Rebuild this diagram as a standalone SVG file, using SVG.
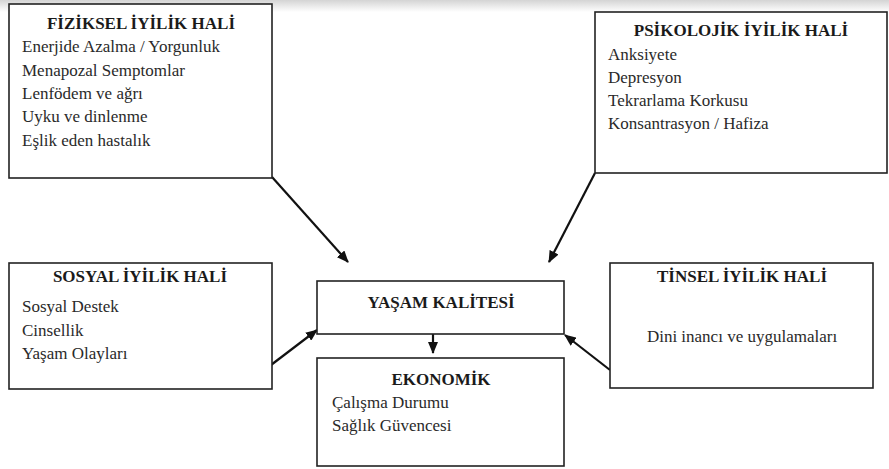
<svg xmlns="http://www.w3.org/2000/svg" width="889" height="469" viewBox="0 0 889 469">
<defs>
<linearGradient id="topband" x1="0" y1="0" x2="0" y2="1">
<stop offset="0" stop-color="#d4d4d4"/>
<stop offset="1" stop-color="#ffffff"/>
</linearGradient>
<marker id="ah" markerWidth="12" markerHeight="10" refX="11" refY="5" orient="auto" markerUnits="userSpaceOnUse">
<path d="M0,0 L12,5 L0,10 Z" fill="#111"/>
</marker>
<style>
.box{fill:#fff;stroke:#222;stroke-width:1.6}
.t{font-family:"Liberation Serif","Times New Roman",serif;font-weight:700;font-size:17px;fill:#1a1a1a;text-anchor:middle}
.b{font-family:"Liberation Serif","Times New Roman",serif;font-weight:400;font-size:17px;fill:#2a2a2a}
.c{stroke:#111;stroke-width:2.2;fill:none;marker-end:url(#ah)}
</style>
</defs>
<rect x="0" y="0" width="889" height="469" fill="#fff"/>
<rect x="0" y="0" width="889" height="12" fill="url(#topband)"/>

<g id="connectors">
<line class="c" x1="272" y1="177" x2="348" y2="262"/>
<line class="c" x1="595" y1="173" x2="549" y2="262"/>
<line class="c" x1="271" y1="365" x2="317" y2="330"/>
<line class="c" x1="610" y1="370" x2="565" y2="335"/>
<line class="c" x1="433" y1="334" x2="433" y2="353"/>
</g>

<g id="fiziksel">
<rect class="box" x="9" y="4" width="263" height="174"/>
<text class="t" x="141" y="29">FİZİKSEL İYİLİK HALİ</text>
<text class="b" x="22" y="52">Enerjide Azalma / Yorgunluk</text>
<text class="b" x="22" y="76">Menapozal Semptomlar</text>
<text class="b" x="22" y="99">Lenfödem ve ağrı</text>
<text class="b" x="22" y="122">Uyku ve dinlenme</text>
<text class="b" x="22" y="146">Eşlik eden hastalık</text>
</g>

<g id="psikolojik">
<rect class="box" x="595" y="12" width="292" height="161"/>
<text class="t" x="741" y="36">PSİKOLOJİK İYİLİK HALİ</text>
<text class="b" x="608" y="60">Anksiyete</text>
<text class="b" x="608" y="83">Depresyon</text>
<text class="b" x="608" y="106">Tekrarlama Korkusu</text>
<text class="b" x="608" y="129">Konsantrasyon / Hafiza</text>
</g>

<g id="sosyal">
<rect class="box" x="9" y="263" width="263" height="126"/>
<text class="t" x="140" y="282">SOSYAL İYİLİK HALİ</text>
<text class="b" x="22" y="312">Sosyal Destek</text>
<text class="b" x="22" y="336">Cinsellik</text>
<text class="b" x="22" y="359">Yaşam Olayları</text>
</g>

<g id="yasam">
<rect class="box" x="317" y="281" width="247" height="53"/>
<text class="t" x="441" y="308">YAŞAM KALİTESİ</text>
</g>

<g id="ekonomik">
<rect class="box" x="317" y="358" width="247" height="108"/>
<text class="t" x="441" y="385">EKONOMİK</text>
<text class="b" x="332" y="408">Çalışma Durumu</text>
<text class="b" x="332" y="431">Sağlık Güvencesi</text>
</g>

<g id="tinsel">
<rect class="box" x="610" y="263" width="263" height="125"/>
<text class="t" x="742" y="282">TİNSEL İYİLİK HALİ</text>
<text class="b" x="742" y="342" text-anchor="middle">Dini inancı ve uygulamaları</text>
</g>
</svg>
